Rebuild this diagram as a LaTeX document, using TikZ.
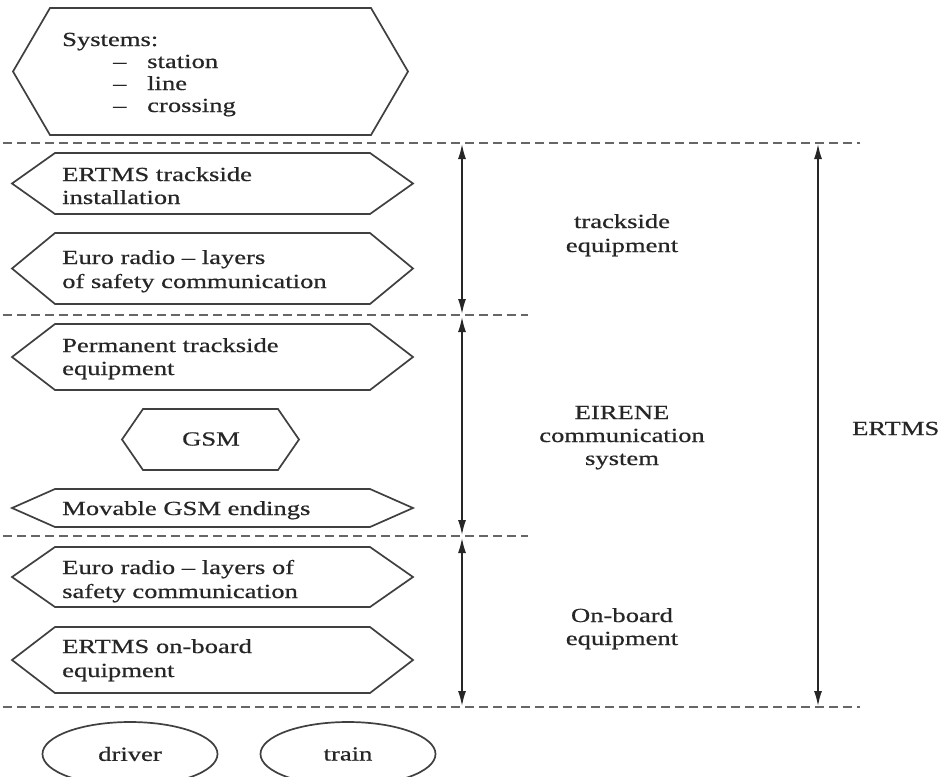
\documentclass[tikz,border=0pt]{standalone}
\usepackage{fontspec}
\setmainfont[FakeStretch=1.33,FakeBold=0.6]{Liberation Serif}
\usetikzlibrary{arrows.meta,shapes.geometric}
\newcommand\hexg[6]{% name, xl, xr, d, ytop, ybot
  \draw[hexline] (#2,{(#5+#6)/2}) coordinate (#1-l) -- ({#2+#4},#5) -- ({#3-#4},#5)
    -- (#3,{(#5+#6)/2}) coordinate (#1-r) -- ({#3-#4},#6) -- ({#2+#4},#6) -- cycle;}
\begin{document}
\begin{tikzpicture}[x=1pt,y=-1pt,
  every node/.style={font=\fontsize{20}{24}\selectfont, text=black!85, inner sep=0pt},
  hexline/.style={draw=black!75, line width=1.7pt, line join=miter},
  sepline/.style={draw=black!60, line width=1.7pt, dash pattern=on 9pt off 5pt},
  dimarrow/.style={draw=black!85, line width=1.6pt,
    {Latex[length=15pt,width=8pt]}-{Latex[length=15pt,width=8pt]}},
  lbl/.style={anchor=base west},
  clbl/.style={anchor=base},
  oval/.style={ellipse, draw=black!75, line width=1.7pt, minimum width=175pt, minimum height=64pt}]
\fill[white] (0,0) rectangle (944,776);
\useasboundingbox (0,0) rectangle (944,776);

% hexagons
\hexg{h1}{13}{408}{37}{8}{135}
\hexg{h2}{12}{413}{43}{153}{214}
\hexg{h3}{12}{413}{43}{233}{304}
\hexg{h4}{12}{413}{43}{324}{390}
\hexg{hg}{122}{299}{21}{409}{470}
\hexg{h5}{12}{413}{43}{489}{527}
\hexg{h6}{12}{413}{43}{547}{607}
\hexg{h7}{12}{413}{43}{627}{693}

% texts in hexagons
\node[lbl] (sys) at (62,46) {Systems:};
\node[lbl] (d1) at (113,68) {--};
\node[lbl] (d2) at (113,90) {--};
\node[lbl] (d3) at (113,112) {--};
\node[lbl] (i1) at (147,68) {station};
\node[lbl] (i2) at (147,90) {line};
\node[lbl] (i3) at (147,112) {crossing};

\node[lbl] (h2a) at (62,181) {ERTMS trackside};
\node[lbl] (h2b) at (62,204) {installation};
\node[lbl] (h3a) at (62,264) {Euro radio -- layers};
\node[lbl] (h3b) at (62,288) {of safety communication};
\node[lbl] (h4a) at (62,352) {Permanent trackside};
\node[lbl] (h4b) at (62,375) {equipment};
\node (gsm) at (211,439) {GSM};
\node[lbl] (h5a) at (62,515) {Movable GSM endings};
\node[lbl] (h6a) at (62,574) {Euro radio -- layers of};
\node[lbl] (h6b) at (62,598) {safety communication};
\node[lbl] (h7a) at (62,653) {ERTMS on-board};
\node[lbl] (h7b) at (62,677) {equipment};

% ellipses
\node[oval] (driver) at (130,754) {driver};
\node[oval] (train) at (348,754) {train};

% separators
\coordinate (s1l) at (3,143);  \coordinate (s1r) at (860,143);
\coordinate (s2l) at (3,315);  \coordinate (s2r) at (528,315);
\coordinate (s3l) at (3,536);  \coordinate (s3r) at (528,536);
\coordinate (s4l) at (3,707);  \coordinate (s4r) at (860,707);
\draw[sepline] (s1l) -- (s1r);
\draw[sepline] (s2l) -- (s2r);
\draw[sepline] (s3l) -- (s3r);
\draw[sepline] (s4l) -- (s4r);

% dimension arrows
\coordinate (a1t) at (462,144); \coordinate (a1b) at (462,314);
\coordinate (a2t) at (462,317); \coordinate (a2b) at (462,535);
\coordinate (a3t) at (462,538); \coordinate (a3b) at (462,706);
\coordinate (a4t) at (818,144); \coordinate (a4b) at (818,706);
\draw[dimarrow] (a1t) -- (a1b);
\draw[dimarrow] (a2t) -- (a2b);
\draw[dimarrow] (a3t) -- (a3b);
\draw[dimarrow] (a4t) -- (a4b);

% labels
\node[clbl] (l1a) at (622,228) {trackside};
\node[clbl] (l1b) at (622,252) {equipment};
\node[clbl] (l2a) at (622,419) {EIRENE};
\node[clbl] (l2b) at (622,442) {communication};
\node[clbl] (l2c) at (622,465) {system};
\node[clbl] (l3a) at (622,622) {On-board};
\node[clbl] (l3b) at (622,645) {equipment};
\node[lbl] (ertms) at (852,435) {ERTMS};
\end{tikzpicture}
\end{document}
